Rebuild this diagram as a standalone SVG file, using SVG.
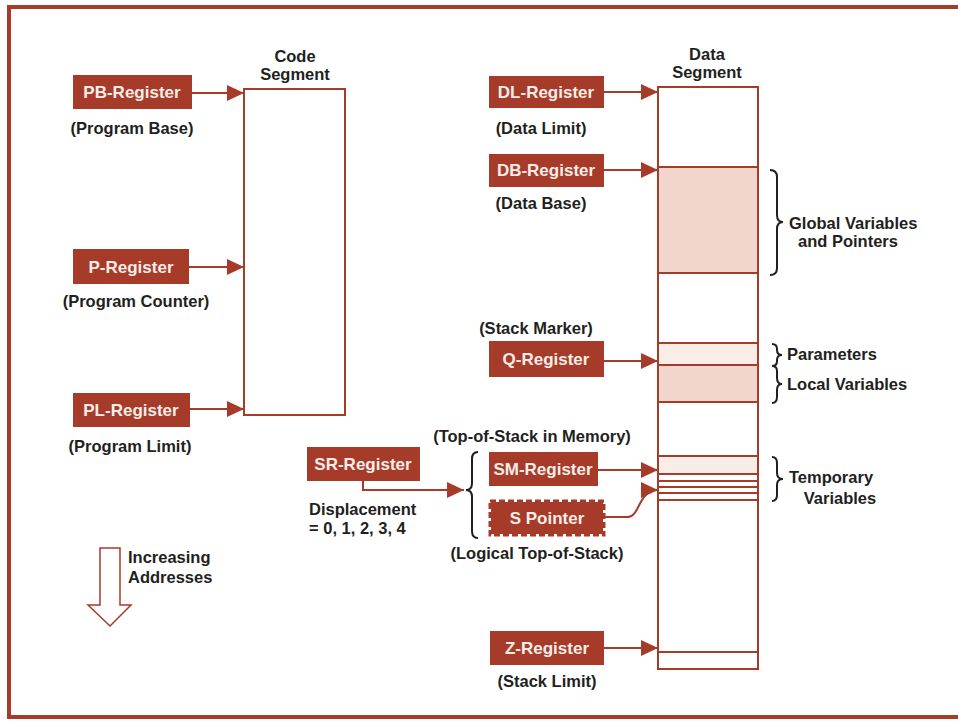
<svg xmlns="http://www.w3.org/2000/svg" width="958" height="721" viewBox="0 0 958 721">
<defs>
<style>
.reg{fill:#a63b29}
.rt{fill:#f7ede8;font-family:"Liberation Sans",Arial,sans-serif;font-weight:bold;font-size:17px;text-anchor:middle}
.lb{fill:#231f20;font-family:"Liberation Sans",Arial,sans-serif;font-weight:bold;font-size:16.5px}
.c{text-anchor:middle}
.ln{stroke:#a63b29;stroke-width:2;fill:none}
.seg{fill:#fff;stroke:#a63b29;stroke-width:2}
.br{stroke:#231f20;stroke-width:2;fill:none}
</style>
<marker id="ah" markerUnits="userSpaceOnUse" markerWidth="18" markerHeight="16" refX="17" refY="8" orient="auto">
<path d="M0,0 L17,8 L0,16 Z" fill="#a63b29"/>
</marker>
</defs>
<rect width="958" height="721" fill="#fff"/>
<rect x="9" y="7" width="970" height="710" fill="none" stroke="#a63b29" stroke-width="4"/>

<g id="code-segment">
<text class="lb c" x="295" y="62">Code</text>
<text class="lb c" x="295" y="80">Segment</text>
<rect class="seg" x="244" y="89" width="101" height="326"/>
</g>

<g id="data-segment">
<text class="lb c" x="707" y="60">Data</text>
<text class="lb c" x="707" y="78">Segment</text>
<rect class="seg" x="658" y="87" width="100" height="582"/>
<rect x="658" y="167" width="100" height="106" fill="#f2d6ce"/>
<rect x="658" y="343" width="100" height="22" fill="#faece7"/>
<rect x="658" y="365" width="100" height="37" fill="#f2d6ce"/>
<rect x="658" y="456" width="100" height="18" fill="#faece7"/>
<g class="ln">
<path d="M658,167H758M658,273H758M658,343H758M658,365H758M658,402H758M658,456H758M658,474H758M658,481H758M658,487H758M658,493H758M658,500H758M658,652H758"/>
</g>
<rect x="658" y="87" width="100" height="582" fill="none" stroke="#a63b29" stroke-width="2"/>
</g>

<g id="pb-register">
<rect class="reg" x="73" y="75" width="119" height="34"/>
<text class="rt" x="132" y="98">PB-Register</text>
<text class="lb c" x="132" y="134">(Program Base)</text>
</g>
<g id="p-register">
<rect class="reg" x="73" y="249" width="116" height="35"/>
<text class="rt" x="131" y="273">P-Register</text>
<text class="lb c" x="136" y="307">(Program Counter)</text>
</g>
<g id="pl-register">
<rect class="reg" x="73" y="393" width="117" height="34"/>
<text class="rt" x="131" y="416">PL-Register</text>
<text class="lb c" x="130" y="452">(Program Limit)</text>
</g>

<g id="dl-register">
<rect class="reg" x="489" y="76" width="115" height="32"/>
<text class="rt" x="546" y="98">DL-Register</text>
<text class="lb c" x="541" y="134">(Data Limit)</text>
</g>
<g id="db-register">
<rect class="reg" x="489" y="154" width="115" height="33"/>
<text class="rt" x="546" y="176">DB-Register</text>
<text class="lb c" x="541" y="209">(Data Base)</text>
</g>
<g id="q-register">
<text class="lb c" x="536" y="334">(Stack Marker)</text>
<rect class="reg" x="489" y="341" width="115" height="36"/>
<text class="rt" x="546" y="365">Q-Register</text>
</g>
<g id="sr-register">
<rect class="reg" x="307" y="447" width="113" height="34"/>
<text class="rt" x="363" y="470">SR-Register</text>
<text class="lb" x="309" y="515">Displacement</text>
<text class="lb" x="309" y="534">= 0, 1, 2, 3, 4</text>
</g>
<g id="sm-register">
<text class="lb c" x="532" y="442">(Top-of-Stack in Memory)</text>
<rect class="reg" x="489" y="452" width="109" height="34"/>
<text class="rt" x="543" y="475">SM-Register</text>
</g>
<g id="s-pointer">
<rect class="reg" x="491" y="502" width="112" height="32"/>
<rect x="490" y="501" width="114" height="34" fill="none" stroke="#a63b29" stroke-width="3" stroke-dasharray="6 3"/>
<text class="rt" x="547" y="524">S Pointer</text>
<text class="lb c" x="537" y="559">(Logical Top-of-Stack)</text>
</g>
<g id="z-register">
<rect class="reg" x="490" y="631" width="114" height="34"/>
<text class="rt" x="547" y="654">Z-Register</text>
<text class="lb c" x="547" y="687">(Stack Limit)</text>
</g>

<g id="braces">
<path class="br" d="M770,170 q7,0 7,7 v38 q0,7 6,7 q-6,0 -6,7 v39 q0,7 -7,7"/>
<text class="lb" x="789" y="229">Global Variables</text>
<text class="lb c" x="848" y="247">and Pointers</text>
<path class="br" d="M772,344 q5,0 5,5 v1 q0,5 5,5 q-5,0 -5,5 v1 q0,5 -5,5"/>
<text class="lb" x="787" y="360">Parameters</text>
<path class="br" d="M772,366 q5,0 5,5 v7 q0,6 5,6 q-5,0 -5,6 v7 q0,6 -5,6"/>
<text class="lb" x="787" y="390">Local Variables</text>
<path class="br" d="M772,457 q5,0 5,6 v10 q0,6 6,6 q-6,0 -6,6 v10 q0,6 -5,6"/>
<text class="lb" x="789" y="483">Temporary</text>
<text class="lb c" x="840" y="504">Variables</text>
<path class="br" d="M478,452 q-6,0 -6,7 v24 q0,7 -6,7 q6,0 6,7 v34 q0,7 6,7"/>
</g>

<g id="increasing-addresses">
<path d="M100,548 H120 V605 H131 L110,626 L88,605 H100 Z" fill="none" stroke="#a63b29" stroke-width="1.5"/>
<text class="lb" x="128" y="563">Increasing</text>
<text class="lb" x="128" y="583">Addresses</text>
</g>

<g id="connectors" class="ln">
<path d="M192,93 H244" marker-end="url(#ah)"/>
<path d="M189,267 H244" marker-end="url(#ah)"/>
<path d="M190,409 H244" marker-end="url(#ah)"/>
<path d="M604,92 H658" marker-end="url(#ah)"/>
<path d="M604,170 H658" marker-end="url(#ah)"/>
<path d="M604,361 H658" marker-end="url(#ah)"/>
<path d="M598,470 H658" marker-end="url(#ah)"/>
<path d="M604,517 H628 C640,517 638,490 658,490" marker-end="url(#ah)"/>
<path d="M604,648 H658" marker-end="url(#ah)"/>
<path d="M363,481 V490 H464" marker-end="url(#ah)"/>
</g>
</svg>
